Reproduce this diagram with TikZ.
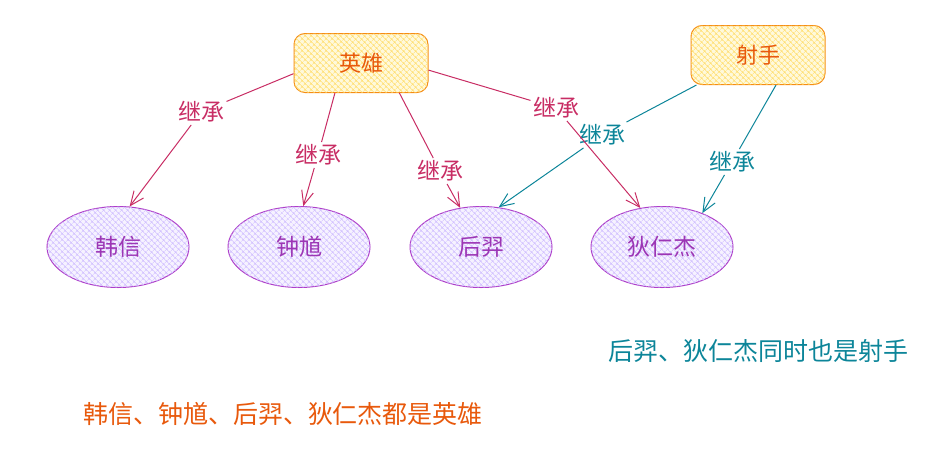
\documentclass[tikz,border=0pt]{standalone}
\usepackage{fontspec}
\setmainfont{Noto Sans CJK SC}
\usetikzlibrary{arrows.meta,shapes.geometric,patterns.meta}
\definecolor{box_orange}{RGB}{245,140,20}
\definecolor{box_fill}{RGB}{255,249,219}
\definecolor{hatch_yellow}{RGB}{255,222,110}
\definecolor{text_orange}{RGB}{232,89,12}
\definecolor{node_purple}{RGB}{174,62,201}
\definecolor{node_fill}{RGB}{246,242,255}
\definecolor{hatch_purple}{RGB}{208,191,255}
\definecolor{text_purple}{RGB}{156,54,181}
\definecolor{edge_pink}{RGB}{200,45,100}
\definecolor{edge_teal}{RGB}{12,133,153}

\begin{document}
\begin{tikzpicture}[x=1pt,y=-1pt,line width=1pt,>={Straight Barb[length=14pt,width=12pt]}]
    \tikzstyle{hero}=[draw=box_orange, rounded corners=11pt, minimum width=134pt, minimum height=59pt, fill=box_fill, postaction={pattern={Hatch[angle=45,distance=4pt,line width=0.5pt]}, pattern color=hatch_yellow}, text=text_orange, font=\fontsize{22}{26}\selectfont]
    \tikzstyle{role}=[draw=node_purple, ellipse, minimum width=142pt, minimum height=81pt, fill=node_fill, postaction={pattern={Hatch[angle=45,distance=4pt,line width=0.5pt]}, pattern color=hatch_purple}, text=text_purple, font=\fontsize{23}{26}\selectfont]
    \tikzstyle{lab}=[inner sep=2pt, font=\fontsize{23}{26}\selectfont]
    \tikzstyle{note}=[font=\fontsize{25}{29}\selectfont]
    \useasboundingbox (0,0) rectangle (935,458);

    \node[hero] (yx) at (361,63)  {英雄};
    \node[hero] (ss) at (758,55)  {射手};
    \node[role] (hx) at (118,247) {韩信};
    \node[role] (zk) at (299,247) {钟馗};
    \node[role] (hy) at (481,247) {后羿};
    \node[role] (dr) at (662,247) {狄仁杰};

    \node[lab,text=edge_pink] (l1) at (201,112) {继承};
    \node[lab,text=edge_pink] (l2) at (318,155) {继承};
    \node[lab,text=edge_pink] (l3) at (440,171) {继承};
    \node[lab,text=edge_pink] (l4) at (556,108) {继承};
    \node[lab,text=edge_teal] (l5) at (602,135) {继承};
    \node[lab,text=edge_teal] (l6) at (732,162) {继承};

    \draw[edge_pink] (yx.189) -- (l1);   \draw[edge_pink,->] (l1) -- (hx.74);
    \draw[edge_pink] (yx.229) -- (l2);   \draw[edge_pink,->] (l2) -- (zk.84);
    \draw[edge_pink] (yx.322) -- (l3);   \draw[edge_pink,->] (l3) -- (hy.118);
    \draw[edge_pink] (yx.-6) -- (l4);    \draw[edge_pink,->] (l4) -- (dr.119);
    \draw[edge_teal] (ss.206) -- (l5);   \draw[edge_teal,->] (l5) -- (hy.66);
    \draw[edge_teal] (ss.301) -- (l6);   \draw[edge_teal,->] (l6) -- (dr.40);

    \node[note,text=edge_teal] (n1) at (758,351) {后羿、狄仁杰同时也是射手};
    \node[note,text=text_orange] (n2) at (283,414) {韩信、钟馗、后羿、狄仁杰都是英雄};
\end{tikzpicture}
\end{document}
